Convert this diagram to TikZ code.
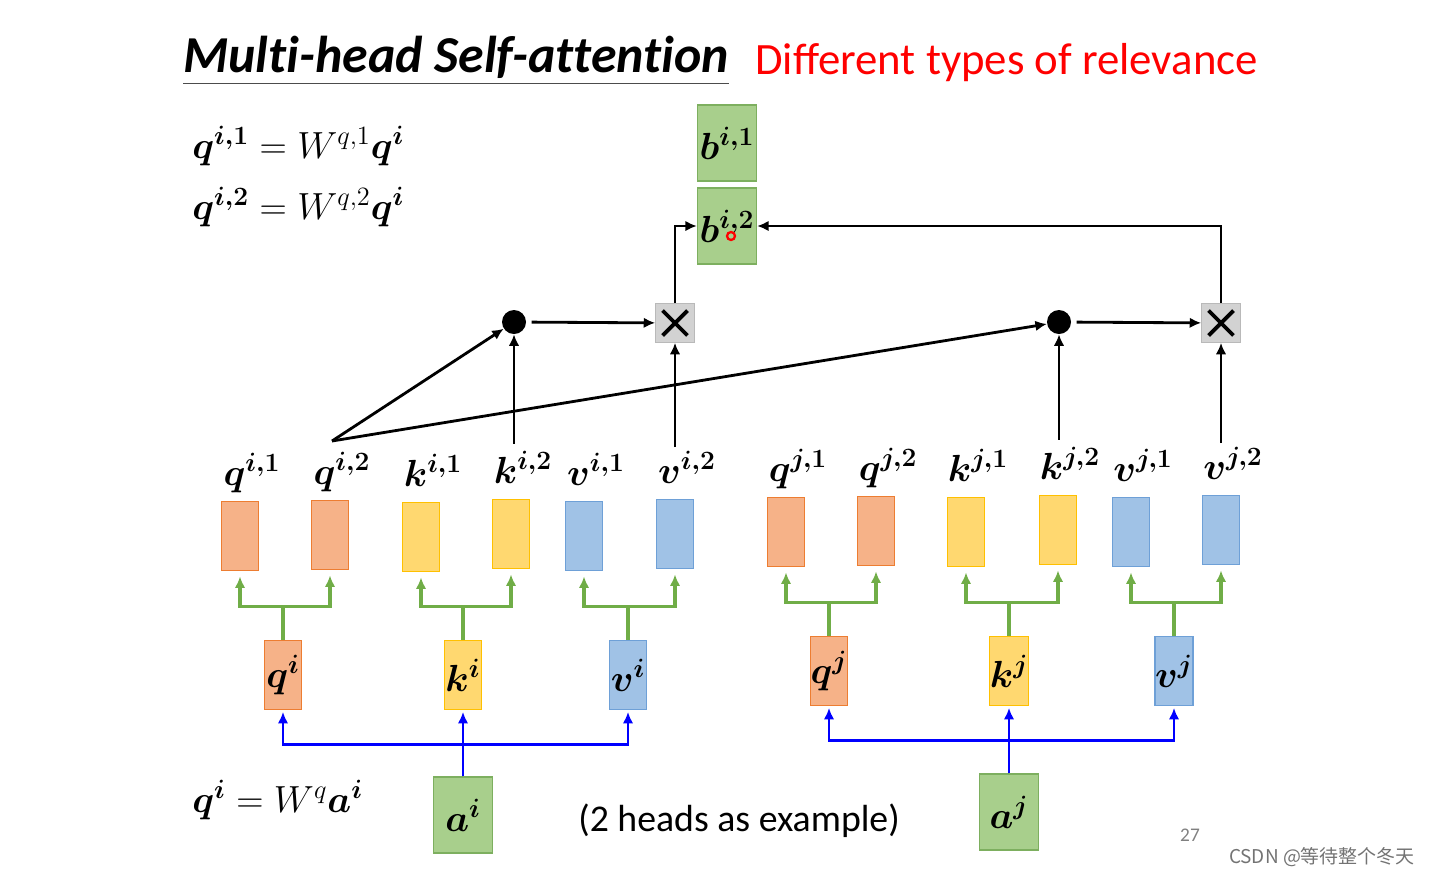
\RequirePackage{fix-cm}
\documentclass[tikz,border=0pt]{standalone}
\usepackage[no-math]{fontspec}
\setmainfont{Carlito}
\newfontfamily\cjkfont{Noto Sans CJK SC}
\usepackage{bm}
\usetikzlibrary{arrows.meta, positioning, calc}

\definecolor{qfill}{RGB}{246,178,136}
\definecolor{qline}{RGB}{237,125,49}
\definecolor{kfill}{RGB}{255,216,112}
\definecolor{kline}{RGB}{255,192,0}
\definecolor{vfill}{RGB}{160,194,230}
\definecolor{vline}{RGB}{110,160,215}
\definecolor{afill}{RGB}{168,207,140}
\definecolor{aline}{RGB}{125,175,95}
\definecolor{forkgreen}{RGB}{112,173,71}
\definecolor{xfill}{RGB}{210,210,210}

\begin{document}
\begin{tikzpicture}[x=0.02cm, y=-0.02cm, >={Latex[length=6.5pt,width=6pt]},
    vec/.style={draw=#1line, fill=#1fill, line width=0.8pt, minimum width=0.74cm, minimum height=1.38cm, inner sep=0pt},
    lab/.style={inner sep=0pt, font=\fontsize{21.5}{24}\selectfont},
    mid/.style={vec=#1, lab},
    big/.style={vec=a, lab, minimum width=1.18cm, minimum height=1.52cm},
    dot/.style={circle, fill=black, minimum size=0.48cm, inner sep=0pt},
    mult/.style={draw=gray!55, fill=xfill, minimum size=0.78cm, inner sep=0pt,
        path picture={\draw[black, line width=2.2pt]
            ([shift={(4pt,4pt)}]path picture bounding box.south west) -- ([shift={(-4pt,-4pt)}]path picture bounding box.north east)
            ([shift={(4pt,-4pt)}]path picture bounding box.north west) -- ([shift={(-4pt,4pt)}]path picture bounding box.south east);}},
    flow/.style={->, line width=1.6pt},
    fork/.style={->, draw=forkgreen, line width=1.8pt, shorten >=3pt},
    feed/.style={->, draw=blue, line width=1.6pt, shorten >=1pt}]
    \useasboundingbox (0,0) rectangle (1436,877);

    % heading
    \node[anchor=base west, inner sep=0pt, font=\fontsize{29.5}{32}\selectfont\bfseries\itshape\addfontfeatures{Ligatures=NoCommon}] (title) at (183,72) {Multi-head Self-attention};
    \draw[gray!60!black, line width=0.9pt] ([yshift=-6.5pt]title.base west) -- ([yshift=-6.5pt]title.base east);
    \node[anchor=base west, inner sep=0pt, text=red, font=\fontsize{25.5}{28}\selectfont] (rel) at (755,74) {Different types of relevance};

    % equations
    \node[lab, anchor=base west] (eq1) at (192,158) {$\bm{q}^{\bm{i,1}} = W^{q,1}\bm{q}^{\bm{i}}$};
    \node[lab, anchor=base west] (eq2) at (192,219) {$\bm{q}^{\bm{i,2}} = W^{q,2}\bm{q}^{\bm{i}}$};
    \node[lab, anchor=base west] (eq3) at (192,812) {$\bm{q}^{\bm{i}} = W^{q}\bm{a}^{\bm{i}}$};
    \node[anchor=base west, inner sep=0pt, font=\fontsize{21.5}{24}\selectfont] (note) at (578,831) {(2 heads as example)};

    % outputs
    \node[big] (b1) at (727,143) {$\bm{b}^{\bm{i,1}}$};
    \node[big] (b2) at (727,226) {$\bm{b}^{\bm{i,2}}$};
    \draw[red, line width=1.3pt] (731,236) circle (4);

    % inputs
    \node[big] (ai) at (463,815) {$\bm{a}^{\bm{i}}$};
    \node[big] (aj) at (1009,812) {$\bm{a}^{\bm{j}}$};

    % q k v
    \node[mid=q] (qi) at (283,675) {$\bm{q}^{\bm{i}}$};
    \node[mid=k] (ki) at (463,675) {$\bm{k}^{\bm{i}}$};
    \node[mid=v] (vi) at (628,675) {$\bm{v}^{\bm{i}}$};
    \node[mid=q] (qj) at (829,671) {$\bm{q}^{\bm{j}}$};
    \node[mid=k] (kj) at (1009,671) {$\bm{k}^{\bm{j}}$};
    \node[mid=v] (vj) at (1174,671) {$\bm{v}^{\bm{j}}$};

    % heads
    \foreach \x/\y/\s/\h/\m in {240/536/q/i/1, 330/535/q/i/2, 421/537/k/i/1, 511/534/k/i/2, 584/536/v/i/1, 675/534/v/i/2,
        786/532/q/j/1, 876/531/q/j/2, 966/532/k/j/1, 1058/530/k/j/2, 1131/532/v/j/1, 1221/530/v/j/2} {
        \node[vec=\s] (\s\h\m) at (\x,\y) {};
        \node[lab, anchor=base] (l\s\h\m) at (\x+12,\y-51) {$\bm{\s}^{\bm{\h,\m}}$};
    }

    % splitting into heads
    \foreach \s/\h in {q/i, k/i, v/i, q/j, k/j, v/j} {
        \draw[fork] (\s\h.north) -- ++(0,-33) -| (\s\h1.south);
        \draw[fork] (\s\h.north) -- ++(0,-33) -| (\s\h2.south);
    }

    % a to q k v
    \draw[feed] (ai.north) -- ++(0,-32) -| (qi.south);
    \draw[feed] (ai.north) -- (ki.south);
    \draw[feed] (ai.north) -- ++(0,-32) -| (vi.south);
    \draw[feed] (aj.north) -- ++(0,-33) -| (qj.south);
    \draw[feed] (aj.north) -- (kj.south);
    \draw[feed] (aj.north) -- ++(0,-33) -| (vj.south);

    % second head attention
    \node[dot] (d1) at (514,322) {};
    \node[mult] (x1) at (675,323) {};
    \node[dot] (d2) at (1059,322) {};
    \node[mult] (x2) at (1221,323) {};
    \coordinate (qout) at (332,441);

    \draw[flow] (qout) -- (d1);
    \draw[flow] (qout) -- (d2);
    \draw[flow] ([yshift=4pt]d1 |- lki2.north) -- (d1);
    \draw[flow] ([yshift=2pt]x1 |- lvi2.north) -- (x1);
    \draw[flow] ([yshift=4pt]d2 |- lkj2.north) -- (d2);
    \draw[flow] ([yshift=2pt]x2 |- lvj2.north) -- (x2);
    \draw[flow, shorten <=3pt] (d1) -- (x1);
    \draw[flow, shorten <=3pt] (d2) -- (x2);
    \draw[flow] (x1) |- (b2);
    \draw[flow] (x2) |- (b2);

    % page marks
    \node[text=gray, font=\fontsize{11}{12}\selectfont] (page) at (1190,835) {27};
    \node[anchor=east, text=gray!90!black, font=\cjkfont\fontsize{10.8}{13}\selectfont] (mark) at (1421,857) {CSDN @等待整个冬天};
\end{tikzpicture}
\end{document}
